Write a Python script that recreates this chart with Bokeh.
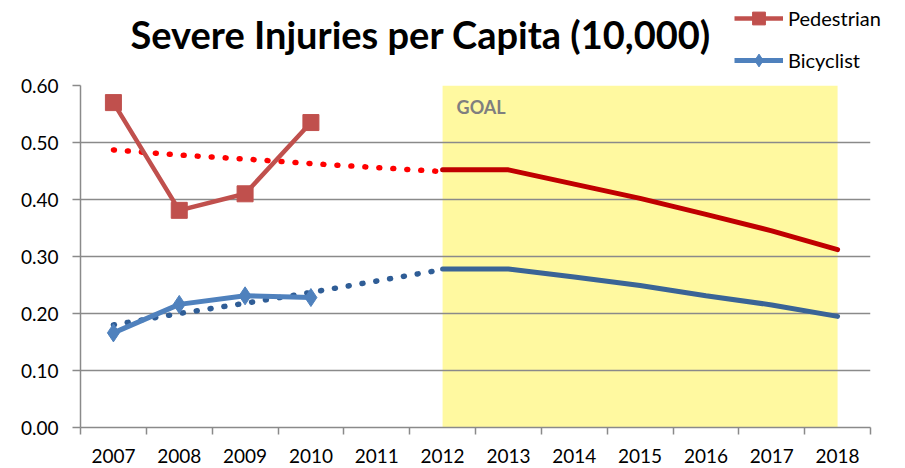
from bokeh.plotting import figure
from bokeh.layouts import column
from bokeh.models import (Range1d, FactorRange, LinearAxis, CategoricalAxis, FixedTicker,
                          NumeralTickFormatter, Legend, LegendItem)
from bokeh.core.properties import value
from bokeh.embed import file_html
from bokeh.resources import INLINE

# ---------------- data ----------------
title_text = "Severe Injuries per Capita (10,000)"
years = ["2007", "2008", "2009", "2010", "2011", "2012",
         "2013", "2014", "2015", "2016", "2017", "2018"]
y_ticks = [0.0, 0.1, 0.2, 0.3, 0.4, 0.5, 0.6]

actual_years = ["2007", "2008", "2009", "2010"]
pedestrian = [0.570, 0.381, 0.410, 0.535]
bicyclist = [0.166, 0.216, 0.231, 0.228]

trend_years = ["2007", "2008", "2009", "2010", "2011", "2012"]
pedestrian_trend = [0.487, 0.478, 0.471, 0.463, 0.456, 0.449]
bicyclist_trend = [0.180, 0.200, 0.218, 0.237, 0.257, 0.277]

goal_years = ["2012", "2013", "2014", "2015", "2016", "2017", "2018"]
pedestrian_goal = [0.452, 0.452, 0.427, 0.402, 0.374, 0.345, 0.312]
bicyclist_goal = [0.278, 0.278, 0.264, 0.249, 0.231, 0.215, 0.195]

goal_span = ["2012", "2018"]
goal_low = [0.0, 0.0]
goal_high = [0.6, 0.6]

GRAY = "#8a8a8a"
FONT = "Lato"
PED_C, BIKE_C = "#C0504D", "#4F81BD"
W = 900
TOP_H = 72
MAIN_H = 395

# ---------------- header (title + legend) ----------------
top = figure(width=W, height=TOP_H, x_range=Range1d(0, W), y_range=Range1d(TOP_H, 0),
             x_axis_location=None, y_axis_location=None,
             output_backend="svg", toolbar_location=None,
             min_border=0, min_border_left=0, min_border_right=0,
             min_border_top=0, min_border_bottom=0)
top.frame_align = False
top.outline_line_color = None
top.xgrid.visible = False
top.ygrid.visible = False
top.text(x=[130], y=[33], text=[title_text], text_font=value(FONT),
         text_font_size="38px", text_font_style="bold", text_color="black",
         text_baseline="alphabetic", text_align="left")
# hidden one-point renderers that only supply the legend's glyph styles
lg_pl = top.line(x=[0], y=[0], line_color=PED_C, line_width=4.5, visible=False)
lg_pm = top.scatter(x=[0], y=[0], marker="square", size=16, fill_color=PED_C,
                    line_color=PED_C, visible=False)
lg_bl = top.line(x=[0], y=[0], line_color=BIKE_C, line_width=5, visible=False)
lg_bm = top.scatter(x=[0], y=[0], marker="diamond", size=18, fill_color=BIKE_C,
                    line_color=BIKE_C, visible=False)
legend = Legend(items=[LegendItem(label="Pedestrian", renderers=[lg_pl, lg_pm]),
                       LegendItem(label="Bicyclist", renderers=[lg_bl, lg_bm])],
                location=(734, -4), orientation="vertical",
                glyph_width=49, glyph_height=32, label_height=32, label_standoff=5,
                spacing=10, padding=0, margin=0,
                border_line_color=None, background_fill_alpha=0,
                inactive_fill_alpha=0,
                label_text_font=FONT, label_text_font_size="20px",
                label_text_color="black")
top.add_layout(legend)

# ---------------- main chart ----------------
p = figure(width=W, height=MAIN_H,
           x_range=FactorRange(factors=years, range_padding=0, factor_padding=0),
           y_range=Range1d(0, 0.6),
           x_axis_location=None,
           output_backend="svg", toolbar_location=None,
           min_border_left=80, min_border_right=W - 870, min_border_top=85 - TOP_H,
           min_border_bottom=MAIN_H - (427 - TOP_H))
p.frame_align = False
p.outline_line_color = None
p.xgrid.visible = False

# y axis
p.yaxis.ticker = FixedTicker(ticks=y_ticks)
p.yaxis.formatter = NumeralTickFormatter(format="0.00")
p.yaxis.major_tick_out = 8
p.yaxis.major_tick_in = 0
p.yaxis.minor_tick_line_color = None
p.yaxis.axis_line_color = GRAY
p.yaxis.axis_line_width = 1.5
p.yaxis.major_tick_line_color = GRAY
p.yaxis.major_tick_line_width = 1.5
p.yaxis.major_label_standoff = 14
p.yaxis.major_label_text_font = FONT
p.yaxis.major_label_text_font_size = "19px"
p.yaxis.major_label_text_color = "black"

p.ygrid.ticker = FixedTicker(ticks=y_ticks)
p.ygrid.grid_line_color = GRAY
p.ygrid.grid_line_width = 1.5

# x axes: tick marks at category boundaries (synthetic coordinates) + category labels
tick_axis = LinearAxis(ticker=FixedTicker(ticks=list(range(len(years) + 1))),
                       major_label_text_font_size="0px", major_label_standoff=0,
                       major_tick_out=7, major_tick_in=0,
                       minor_tick_line_color=None,
                       axis_line_color=GRAY, axis_line_width=1.5,
                       major_tick_line_color=GRAY, major_tick_line_width=1.5)
p.add_layout(tick_axis, "below")
cat_axis = CategoricalAxis(axis_line_color=None, major_tick_line_color=None,
                           major_tick_out=0, major_tick_in=0,
                           major_label_standoff=14,
                           major_label_text_font=FONT,
                           major_label_text_font_size="19px",
                           major_label_text_color="black")
p.add_layout(cat_axis, "below")

# goal band
p.varea(x=goal_span, y1=goal_low, y2=goal_high, fill_color="#FFF9A0", level="image")
p.text(x=[goal_span[0]], y=[goal_high[0]], text=["GOAL"], x_offset=14, y_offset=10,
       text_font=value(FONT), text_font_size="18px", text_font_style="bold",
       text_color="#7F7F7F", text_baseline="top", text_align="left")

# trends (dotted)
p.line(trend_years, pedestrian_trend, line_color="#FF0000", line_width=5.5,
       line_dash="1 13", line_cap="round")
p.line(trend_years, bicyclist_trend, line_color="#2F5D96", line_width=5.5,
       line_dash="1 13", line_cap="round")

# goals
p.line(goal_years, pedestrian_goal, line_color="#C00000", line_width=5, line_cap="round")
p.line(goal_years, bicyclist_goal, line_color="#3A6496", line_width=5, line_cap="round")

# actual data
p.line(actual_years, pedestrian, line_color=PED_C, line_width=4.5)
p.scatter(actual_years, pedestrian, marker="square", size=16,
          fill_color=PED_C, line_color=PED_C)
p.line(actual_years, bicyclist, line_color=BIKE_C, line_width=5)
p.scatter(actual_years, bicyclist, marker="diamond", size=18,
          fill_color=BIKE_C, line_color=BIKE_C)

layout = column(top, p, spacing=0)
open("out.html", "w").write(file_html(layout, INLINE))
